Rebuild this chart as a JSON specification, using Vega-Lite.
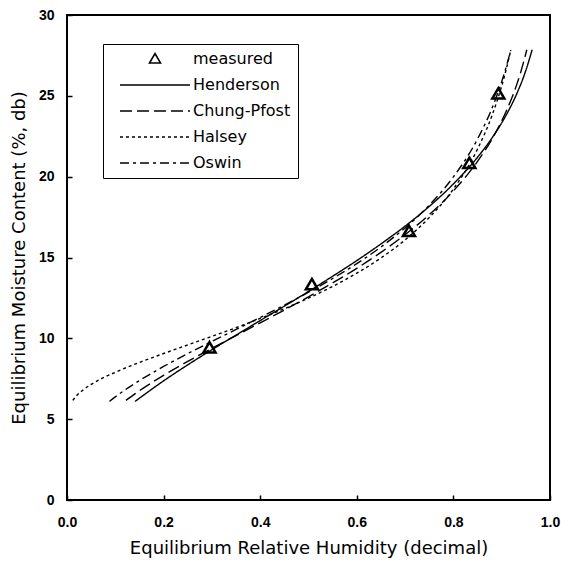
{
  "$schema": "https://vega.github.io/schema/vega-lite/v6.json",
  "width": 483,
  "height": 485,
  "autosize": "none",
  "padding": {"left": 67, "top": 15, "right": 19, "bottom": 66},
  "background": "white",
  "config": {
    "font": "Liberation Sans",
    "view": {"stroke": "black", "strokeWidth": 2},
    "axis": {
      "grid": false,
      "domain": false,
      "labelFlush": false,
      "tickColor": "black",
      "tickSize": -5,
      "tickWidth": 1.5,
      "labelColor": "black",
      "labelFont": "Liberation Sans",
      "labelFontSize": 14,
      "labelFontWeight": "bold",
      "titleColor": "black",
      "titleFont": "DejaVu Sans",
      "titleFontSize": 18,
      "titleFontWeight": "normal"
    }
  },
  "data": {
    "values": [
      {"series": "measured", "rh": 0.295, "emc": 9.4},
      {"series": "measured", "rh": 0.507, "emc": 13.3},
      {"series": "measured", "rh": 0.708, "emc": 16.6},
      {"series": "measured", "rh": 0.833, "emc": 20.8},
      {"series": "measured", "rh": 0.893, "emc": 25.1},

      {"series": "Henderson", "rh": 0.141, "emc": 6.1},
      {"series": "Henderson", "rh": 0.2, "emc": 7.37},
      {"series": "Henderson", "rh": 0.25, "emc": 8.36},
      {"series": "Henderson", "rh": 0.3, "emc": 9.3},
      {"series": "Henderson", "rh": 0.35, "emc": 10.2},
      {"series": "Henderson", "rh": 0.4, "emc": 11.1},
      {"series": "Henderson", "rh": 0.45, "emc": 11.99},
      {"series": "Henderson", "rh": 0.5, "emc": 12.9},
      {"series": "Henderson", "rh": 0.55, "emc": 13.84},
      {"series": "Henderson", "rh": 0.6, "emc": 14.81},
      {"series": "Henderson", "rh": 0.65, "emc": 15.84},
      {"series": "Henderson", "rh": 0.7, "emc": 16.94},
      {"series": "Henderson", "rh": 0.75, "emc": 18.16},
      {"series": "Henderson", "rh": 0.8, "emc": 19.55},
      {"series": "Henderson", "rh": 0.85, "emc": 21.2},
      {"series": "Henderson", "rh": 0.88, "emc": 22.4},
      {"series": "Henderson", "rh": 0.91, "emc": 23.85},
      {"series": "Henderson", "rh": 0.93, "emc": 25.05},
      {"series": "Henderson", "rh": 0.95, "emc": 26.57},
      {"series": "Henderson", "rh": 0.963, "emc": 27.85},

      {"series": "Chung-Pfost", "rh": 0.122, "emc": 6.16},
      {"series": "Chung-Pfost", "rh": 0.15, "emc": 6.76},
      {"series": "Chung-Pfost", "rh": 0.2, "emc": 7.71},
      {"series": "Chung-Pfost", "rh": 0.25, "emc": 8.57},
      {"series": "Chung-Pfost", "rh": 0.3, "emc": 9.38},
      {"series": "Chung-Pfost", "rh": 0.35, "emc": 10.17},
      {"series": "Chung-Pfost", "rh": 0.4, "emc": 10.96},
      {"series": "Chung-Pfost", "rh": 0.45, "emc": 11.75},
      {"series": "Chung-Pfost", "rh": 0.5, "emc": 12.57},
      {"series": "Chung-Pfost", "rh": 0.55, "emc": 13.43},
      {"series": "Chung-Pfost", "rh": 0.6, "emc": 14.33},
      {"series": "Chung-Pfost", "rh": 0.65, "emc": 15.32},
      {"series": "Chung-Pfost", "rh": 0.7, "emc": 16.41},
      {"series": "Chung-Pfost", "rh": 0.75, "emc": 17.65},
      {"series": "Chung-Pfost", "rh": 0.8, "emc": 19.12},
      {"series": "Chung-Pfost", "rh": 0.85, "emc": 20.95},
      {"series": "Chung-Pfost", "rh": 0.88, "emc": 22.33},
      {"series": "Chung-Pfost", "rh": 0.91, "emc": 24.09},
      {"series": "Chung-Pfost", "rh": 0.93, "emc": 25.6},
      {"series": "Chung-Pfost", "rh": 0.94, "emc": 26.53},
      {"series": "Chung-Pfost", "rh": 0.952, "emc": 27.85},

      {"series": "Halsey", "rh": 0.012, "emc": 6.16},
      {"series": "Halsey", "rh": 0.02, "emc": 6.46},
      {"series": "Halsey", "rh": 0.03, "emc": 6.73},
      {"series": "Halsey", "rh": 0.05, "emc": 7.15},
      {"series": "Halsey", "rh": 0.1, "emc": 7.9},
      {"series": "Halsey", "rh": 0.15, "emc": 8.51},
      {"series": "Halsey", "rh": 0.2, "emc": 9.06},
      {"series": "Halsey", "rh": 0.25, "emc": 9.59},
      {"series": "Halsey", "rh": 0.3, "emc": 10.12},
      {"series": "Halsey", "rh": 0.35, "emc": 10.66},
      {"series": "Halsey", "rh": 0.4, "emc": 11.23},
      {"series": "Halsey", "rh": 0.45, "emc": 11.83},
      {"series": "Halsey", "rh": 0.5, "emc": 12.49},
      {"series": "Halsey", "rh": 0.55, "emc": 13.21},
      {"series": "Halsey", "rh": 0.6, "emc": 14.03},
      {"series": "Halsey", "rh": 0.65, "emc": 14.97},
      {"series": "Halsey", "rh": 0.7, "emc": 16.09},
      {"series": "Halsey", "rh": 0.75, "emc": 17.47},
      {"series": "Halsey", "rh": 0.8, "emc": 19.24},
      {"series": "Halsey", "rh": 0.85, "emc": 21.71},
      {"series": "Halsey", "rh": 0.88, "emc": 23.79},
      {"series": "Halsey", "rh": 0.9, "emc": 25.61},
      {"series": "Halsey", "rh": 0.91, "emc": 26.72},
      {"series": "Halsey", "rh": 0.919, "emc": 27.85},

      {"series": "Oswin", "rh": 0.088, "emc": 6.1},
      {"series": "Oswin", "rh": 0.1, "emc": 6.38},
      {"series": "Oswin", "rh": 0.15, "emc": 7.39},
      {"series": "Oswin", "rh": 0.2, "emc": 8.26},
      {"series": "Oswin", "rh": 0.25, "emc": 9.06},
      {"series": "Oswin", "rh": 0.3, "emc": 9.81},
      {"series": "Oswin", "rh": 0.35, "emc": 10.55},
      {"series": "Oswin", "rh": 0.4, "emc": 11.29},
      {"series": "Oswin", "rh": 0.45, "emc": 12.05},
      {"series": "Oswin", "rh": 0.5, "emc": 12.85},
      {"series": "Oswin", "rh": 0.55, "emc": 13.7},
      {"series": "Oswin", "rh": 0.6, "emc": 14.62},
      {"series": "Oswin", "rh": 0.65, "emc": 15.65},
      {"series": "Oswin", "rh": 0.7, "emc": 16.83},
      {"series": "Oswin", "rh": 0.75, "emc": 18.24},
      {"series": "Oswin", "rh": 0.8, "emc": 19.99},
      {"series": "Oswin", "rh": 0.85, "emc": 22.33},
      {"series": "Oswin", "rh": 0.88, "emc": 24.24},
      {"series": "Oswin", "rh": 0.9, "emc": 25.88},
      {"series": "Oswin", "rh": 0.91, "emc": 26.86},
      {"series": "Oswin", "rh": 0.919, "emc": 27.85}
    ]
  },
  "encoding": {
    "x": {
      "field": "rh",
      "type": "quantitative",
      "scale": {"domain": [0, 1], "nice": false, "zero": false},
      "axis": {
        "title": "Equilibrium Relative Humidity (decimal)",
        "values": [0, 0.2, 0.4, 0.6, 0.8, 1.0],
        "format": ".1f",
        "labelPadding": 20,
        "titlePadding": 10
      }
    },
    "y": {
      "field": "emc",
      "type": "quantitative",
      "scale": {"domain": [0, 30], "nice": false},
      "axis": {
        "title": "Equilibrium Moisture Content (%, db)",
        "values": [0, 5, 10, 15, 20, 25, 30],
        "labelPadding": 18,
        "titlePadding": 10
      }
    }
  },
  "layer": [
    {
      "transform": [{"filter": "datum.series !== 'measured'"}],
      "mark": {"type": "line", "color": "black", "strokeWidth": 1.4, "interpolate": "monotone"},
      "encoding": {
        "strokeDash": {
          "field": "series",
          "type": "nominal",
          "scale": {
            "domain": ["measured", "Henderson", "Chung-Pfost", "Halsey", "Oswin"],
            "range": [[1, 0], [1, 0], [12, 5], [3, 3], [9, 4, 3, 4]]
          },
          "legend": {
            "title": null,
            "orient": "none",
            "legendX": 36,
            "legendY": 29,
            "padding": 7,
            "strokeColor": "black",
            "fillColor": "white",
            "labelFont": "DejaVu Sans",
            "labelFontSize": 16,
            "labelColor": "black",
            "symbolSize": 100,
            "symbolOffset": 37,
            "labelOffset": 30,
            "rowPadding": 10,
            "symbolStrokeColor": "black",
            "symbolFillColor": "transparent",
            "symbolStrokeWidth": 1.6
          }
        }
      }
    },
    {
      "transform": [{"filter": "datum.series === 'measured'"}],
      "mark": {"type": "point", "filled": false, "color": "black", "strokeWidth": 2.5, "size": 120, "opacity": 1},
      "encoding": {
        "shape": {
          "field": "series",
          "type": "nominal",
          "scale": {
            "domain": ["measured", "Henderson", "Chung-Pfost", "Halsey", "Oswin"],
            "range": ["M0,-1.1L1.1,0.8L-1.1,0.8Z", "M-7,0L7,0", "M-7,0L7,0", "M-7,0L7,0", "M-7,0L7,0"]
          },
          "legend": {
            "title": null,
            "orient": "none",
            "legendX": 36,
            "legendY": 29,
            "padding": 7,
            "strokeColor": "black",
            "fillColor": "white",
            "labelFont": "DejaVu Sans",
            "labelFontSize": 16,
            "labelColor": "black",
            "symbolSize": 100,
            "symbolOffset": 37,
            "labelOffset": 30,
            "rowPadding": 10,
            "symbolStrokeColor": "black",
            "symbolFillColor": "transparent",
            "symbolStrokeWidth": 1.6
          }
        }
      }
    }
  ]
}
